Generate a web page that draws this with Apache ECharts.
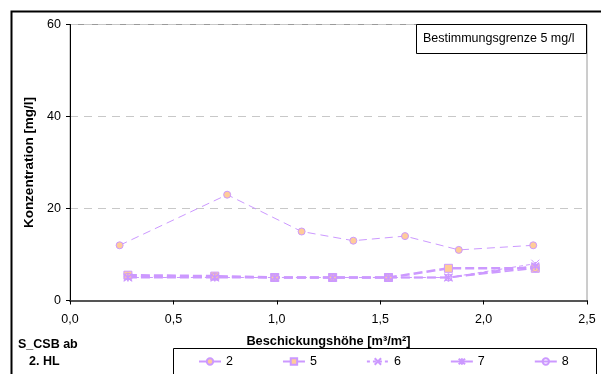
<!DOCTYPE html>
<html>
<head>
<meta charset="utf-8">
<script src="https://cdn.jsdelivr.net/npm/echarts@6/dist/echarts.min.js"></script>
<style>html,body{margin:0;padding:0;background:#fff}#c{width:601px;height:374px}</style>
</head>
<body>
<div id="c"></div>
<script>
var seriesNames = ['2', '5', '6', '7', '8'];
var xs2 = [0.24, 0.76, 1.12, 1.37, 1.62, 1.88, 2.24];
var xsB = [0.28, 0.70, 0.99, 1.27, 1.54, 1.83, 2.25];
var s2 = [12, 23, 15, 13, 14, 11, 12];
var s5 = [5.5, 5.3, 5, 5, 5, 7, 7];
var s6 = [5, 5, 5, 5, 5, 5, 8];
var s7 = [5, 5, 5, 5, 5, 5, 7.5];
var s8 = [5.2, 5.2, 5, 5, 5, 5, 7];
var yTicks = [0, 20, 40, 60];
var xTicks = [0, 0.5, 1.0, 1.5, 2.0, 2.5];

var LAV = '#CC99FF', TAN = '#FFCC99';
var FONT = 'Liberation Sans, Arial, sans-serif';
function pairs(xs, ys) { return xs.map(function (x, i) { return [x, ys[i]]; }); }

var symX = 'path://M0,0L10,10M10,0L0,10';
var symStar = 'path://M0,0L10,10M10,0L0,10M5,-1L5,11';

var chart = echarts.init(document.getElementById('c'), null, {renderer: 'canvas'});
chart.setOption({
  animation: false,
  backgroundColor: '#fff',
  grid: {left: 70, top: 24.5, right: 14, bottom: 73.5, show: true, borderColor: '#9a9a9a', borderWidth: 1},
  xAxis: {
    type: 'value', min: 0, max: 2.5, interval: 0.5,
    name: 'Beschickungshöhe [m³/m²]', nameLocation: 'middle', nameGap: 34,
    nameTextStyle: {fontFamily: FONT, fontSize: 12.8, fontWeight: 'bold', color: '#000'},
    axisLine: {lineStyle: {color: '#555', width: 2}},
    axisTick: {show: true, length: 4, lineStyle: {color: '#000'}},
    splitLine: {show: false},
    axisLabel: {fontFamily: FONT, fontSize: 12.5, color: '#000', margin: 13,
      formatter: function (v) { return v.toFixed(1).replace('.', ','); }}
  },
  yAxis: {
    type: 'value', min: 0, max: 60, interval: 20,
    name: 'Konzentration [mg/l]', nameLocation: 'middle', nameGap: 32,
    nameTextStyle: {fontFamily: FONT, fontSize: 13.5, fontWeight: 'bold', color: '#000'},
    axisLine: {show: true, lineStyle: {color: '#000', width: 1}},
    axisTick: {show: true, length: 4, lineStyle: {color: '#000'}},
    splitLine: {show: true, lineStyle: {color: '#c8c8c8', type: [8, 6], width: 1}},
    axisLabel: {fontFamily: FONT, fontSize: 12.5, color: '#000', margin: 9,
      formatter: function (v) { return yTicks.indexOf(v) >= 0 ? String(v) : ''; }}
  },
  legend: {
    z: 200,
    left: 193, top: 350, itemWidth: 22, itemHeight: 8, itemGap: 49,
    textStyle: {fontFamily: FONT, fontSize: 12.5, color: '#000'},
    data: [
      {name: '2', lineStyle: {type: 'solid'}},
      {name: '5', lineStyle: {type: 'solid'}},
      {name: '6', lineStyle: {type: [3, 3]}},
      {name: '7', lineStyle: {type: 'solid'}},
      {name: '8', lineStyle: {type: 'solid'}}
    ]
  },
  graphic: [
    {type: 'rect', left: 9, top: 9, z: 100, shape: {x: 0, y: 0, width: 640, height: 400},
      style: {fill: 'none', stroke: '#000', lineWidth: 2}},
    {type: 'rect', z: -1, shape: {x: 173.5, y: 348.5, width: 423, height: 40},
      style: {fill: 'none', stroke: '#000', lineWidth: 1}},
    {type: 'rect', z: 50, shape: {x: 416.5, y: 24.5, width: 170, height: 29},
      style: {fill: '#fff', stroke: '#000', lineWidth: 1}},
    {type: 'text', z: 51, style: {x: 423, y: 39, text: 'Bestimmungsgrenze 5 mg/l', fontFamily: FONT, fontSize: 12.5, fill: '#000', verticalAlign: 'middle'}},
    {type: 'text', z: 51, style: {x: 18, y: 345, text: 'S_CSB ab', fontFamily: FONT, fontSize: 12.5, fontWeight: 'bold', fill: '#000', verticalAlign: 'middle'}},
    {type: 'text', z: 51, style: {x: 29, y: 362, text: '2. HL', fontFamily: FONT, fontSize: 12.5, fontWeight: 'bold', fill: '#000', verticalAlign: 'middle'}}
  ],
  series: [
    {name: '2', type: 'line', data: pairs(xs2, s2), symbol: 'circle', symbolSize: 7,
      itemStyle: {color: TAN, borderColor: LAV, borderWidth: 1},
      lineStyle: {color: LAV, width: 1, type: [8, 5]}, z: 3},
    {name: '5', type: 'line', data: pairs(xsB, s5), symbol: 'rect', symbolSize: 8,
      itemStyle: {color: TAN, borderColor: LAV, borderWidth: 1},
      lineStyle: {color: LAV, width: 2.5, type: [9, 4]}, z: 3},
    {name: '6', type: 'line', data: pairs(xsB, s6), symbol: symX, symbolSize: 8,
      itemStyle: {color: 'none', borderColor: LAV, borderWidth: 1},
      lineStyle: {color: LAV, width: 1, type: [4, 3]}, z: 3},
    {name: '7', type: 'line', data: pairs(xsB, s7), symbol: symStar, symbolSize: 8,
      itemStyle: {color: 'none', borderColor: LAV, borderWidth: 1.5},
      lineStyle: {color: LAV, width: 2, type: [9, 4]}, z: 3},
    {name: '8', type: 'line', data: pairs(xsB, s8), symbol: 'circle', symbolSize: 7,
      itemStyle: {color: 'rgba(255,255,255,0)', borderColor: LAV, borderWidth: 1},
      lineStyle: {color: LAV, width: 1.5, type: [9, 4]}, z: 3}
  ]
});
</script>
</body>
</html>
